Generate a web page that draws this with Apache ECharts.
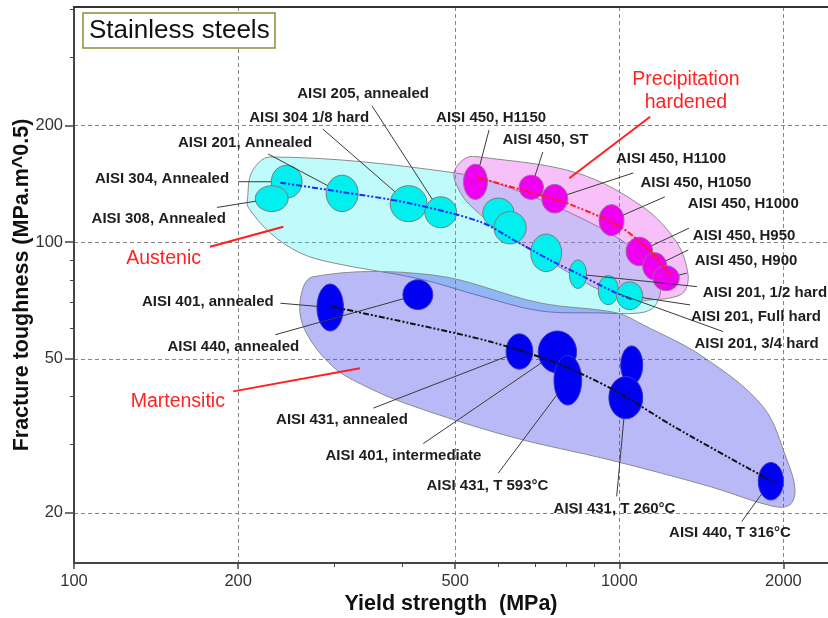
<!DOCTYPE html>
<html>
<head>
<meta charset="utf-8">
<script src="https://cdn.jsdelivr.net/npm/echarts@6/dist/echarts.min.js"></script>
<style>
  html, body { margin: 0; padding: 0; background: #fff; }
  #chart { width: 828px; height: 618px; }
</style>
</head>
<body>
<div id="chart"></div>
<script>
const FONT = "'Liberation Sans', Arial, sans-serif";
const lg = Math.log10;

// ---- Axes (yield strength in MPa, fracture toughness in MPa.m^0.5), log scales ----
const yieldExtent = [100, 2414];
const toughExtent = [14.85, 405];
const yieldMajorTicks = [100, 200, 500, 1000, 2000];
const yieldMinorTicks = [300, 400, 600, 700, 800, 900];
const toughMajorTicks = [20, 50, 100, 200];
const toughMinorTicks = [30, 40, 60, 70, 80, 90, 300, 400];

// ---- Austenitic grades: yield range [min, max], toughness range [min, max] ----
const austeniticNames = [
  'AISI 304, Annealed', 'AISI 308, Annealed', 'AISI 201, Annealed', 'AISI 304 1/8 hard',
  'AISI 205, annealed', '', '', '', 'AISI 201, 1/2 hard', 'AISI 201, 3/4 hard', 'AISI 201, Full hard'
];
const austeniticYield = [
  [230, 262], [215, 247], [290, 332], [380, 444], [440, 503], [562, 641],
  [589, 675], [688, 784], [810, 871], [915, 996], [989, 1104]
];
const austeniticTough = [
  [130, 158], [120, 140], [120, 149], [113, 140], [109, 131], [109, 130],
  [99, 120], [84, 105], [76, 90], [69, 82], [67, 79]
];

// ---- Precipitation hardened grades ----
const phNames = [
  'AISI 450, H1150', 'AISI 450, ST', 'AISI 450, H1100', 'AISI 450, H1050',
  'AISI 450, H1000', 'AISI 450, H950', 'AISI 450, H900'
];
const phYield = [[518, 573], [655, 726], [721, 804], [918, 1020], [1029, 1151], [1104, 1222], [1153, 1288]];
const phTough = [[129, 159], [129, 149], [119, 141], [104, 125], [87, 103], [80, 94], [75, 87]];

// ---- Martensitic grades ----
const martNames = [
  'AISI 401, annealed', 'AISI 440, annealed', 'AISI 431, annealed', 'AISI 401, intermediate',
  'AISI 431, T 593°C', '', 'AISI 431, T 260°C', 'AISI 440, T 316°C'
];
const martYield = [[279, 312], [401, 455], [620, 694], [710, 835], [759, 853], [1006, 1104], [957, 1104], [1798, 2000]];
const martTough = [[59, 78], [67, 80], [47, 58], [46, 59], [38, 51], [43, 54], [35, 45], [21.6, 27]];

// ---- Trend lines through each family ----
const austeniticTrend = [[239, 142.5], [310, 134.8], [410, 126.3], [555, 113], [648, 100.4], [746, 90], [835, 83.2], [974, 74.6], [1060, 71]];
const phTrend = [[551, 146.8], [715, 132.4], [812, 125.3], [1003, 109.7], [1107, 98.4], [1188, 89.1], [1248, 80.8]];
const martTrend = [[297, 68.2], [413, 61.8], [579, 55.4], [768, 48.7], [975, 41.6], [1274, 33.1], [1930, 23.9]];

// ---- Family envelopes (outline vertices, MPa / MPa.m^0.5) ----
const austeniticEnvelope = [
  [208, 128.6], [212, 152], [229, 166], [500, 151], [658, 135], [922, 109], [1091, 92.7],
  [1187, 77.6], [1163, 68.5], [1091, 65.7], [922, 65.7], [716, 66.5], [555, 72.7],
  [431, 80.4], [299, 88.4], [260, 93.8], [229, 105.7], [208.5, 123.3]
];
const phEnvelope = [
  [498, 152], [523, 165], [555, 166], [836, 151], [1105, 123.3], [1276, 99.6], [1337, 82.3],
  [1314, 74.4], [1239, 71.8], [1138, 71], [1091, 70.6], [922, 75.3], [822, 82.3],
  [622, 104.4], [532, 124.8], [506, 138.1]
];
const martEnvelope = [
  [260, 71], [274, 81.4], [455, 82.3], [716, 69.7], [990, 65.7], [1105, 61.2], [1424, 50.6],
  [1835, 37.6], [2030, 27.4], [2100, 23], [2056, 21], [1914, 20.8], [1466, 23.4],
  [962, 27.4], [630, 31.5], [413, 38], [344.5, 42.3], [298.5, 47.7], [265, 59.4]
];

// ---- Callout layout: [text x, text y, leader start x, leader start y] in axis units ----
const austeniticCallouts = [
  [145, 146, 200, 143.3], [143, 115, 183, 123], [206, 181, 227, 169], [270, 210, 286, 196],
  [339, 242, 352, 225], null, null, null,
  [1850, 74.1, 1388, 76.8], [1786, 54.6, 1550, 58.8], [1781, 64.3, 1348, 68.9]
];
const phCallouts = [
  [582, 210, 577, 195], [732, 184, 724, 171], [1244, 164, 1061, 151], [1382, 142, 1212, 131],
  [1688, 125.5, 1342, 108.7], [1694, 103.8, 1338, 95.5], [1708, 89.5, 1329, 83.2]
];
const martCallouts = [
  [176, 70.3, 239, 69.6], [196, 53.8, 234, 57.7], [310, 34.8, 354, 37.3], [402, 28.1, 437, 30.2],
  [573, 23.55, 600, 25.35], null, [980, 20.5, 989, 22.07], [1596, 17.75, 1677, 19.0]
];
// Family names with their pointer lines: [text x, text y, from x, from y, to x, to y]
const familyNames = ['Austenic', 'Martensitic', 'Precipitation\nhardened'];
const familyCallouts = [
  [146, 90.9, 177.6, 97.4, 242, 109.7],
  [155, 38.8, 195.9, 41.2, 334.6, 47.3],
  [1325, 246, 1139, 210.9, 809.6, 146.3]
];

// ---------- series builders ----------
function envelopeSeries(outline, fill) {
  return {
    type: 'custom', z: 1, silent: true,
    data: outline.map(p => [lg(p[0]), lg(p[1])]),
    renderItem: (params, api) => {
      if (params.dataIndex !== 0) return null;
      const pts = outline.map(p => api.coord([lg(p[0]), lg(p[1])]));
      return {
        type: 'polygon',
        shape: { points: pts, smooth: 0.35 },
        style: { fill: fill, stroke: '#8c8c8c', lineWidth: 1 }
      };
    }
  };
}

function ellipseOf(api, xr, yr) {
  const a = api.coord([lg(xr[0]), lg(yr[0])]);
  const b = api.coord([lg(xr[1]), lg(yr[1])]);
  return {
    cx: (a[0] + b[0]) / 2, cy: (a[1] + b[1]) / 2,
    rx: Math.abs(b[0] - a[0]) / 2, ry: Math.abs(b[1] - a[1]) / 2
  };
}

function bubbleSeries(yields, toughs, fill, stroke) {
  return {
    type: 'custom', z: 2, silent: true,
    encode: { x: [0, 1], y: [2, 3] },
    data: yields.map((xr, i) => [lg(xr[0]), lg(xr[1]), lg(toughs[i][0]), lg(toughs[i][1])]),
    renderItem: (params, api) => {
      const i = params.dataIndex;
      const e = ellipseOf(api, yields[i], toughs[i]);
      return {
        type: 'ellipse',
        shape: e,
        style: { fill: fill, stroke: stroke, lineWidth: 1 }
      };
    }
  };
}

function trendSeries(points, color) {
  return {
    type: 'line', z: 3, silent: true, symbol: 'none', smooth: 0.3,
    data: points.map(p => [lg(p[0]), lg(p[1])]),
    lineStyle: { color: color, width: 2, type: [6, 2, 2, 2, 2, 2] }
  };
}

function calloutSeries(names, yields, toughs, layout) {
  const idx = [];
  layout.forEach((l, i) => { if (l) idx.push(i); });
  return {
    type: 'custom', z: 4, silent: true,
    data: idx.map(i => [lg(layout[i][2]), lg(layout[i][3])]),
    renderItem: (params, api) => {
      const i = idx[params.dataIndex];
      const l = layout[i];
      const e = ellipseOf(api, yields[i], toughs[i]);
      const s = api.coord([lg(l[2]), lg(l[3])]);
      const dx = s[0] - e.cx, dy = s[1] - e.cy;
      const t = 1 / Math.sqrt((dx / e.rx) * (dx / e.rx) + (dy / e.ry) * (dy / e.ry));
      const tp = api.coord([lg(l[0]), lg(l[1])]);
      return {
        type: 'group',
        children: [
          { type: 'line', shape: { x1: s[0], y1: s[1], x2: e.cx + dx * t, y2: e.cy + dy * t },
            style: { stroke: '#3a3a3a', lineWidth: 1 } },
          { type: 'text', x: tp[0], y: tp[1],
            style: { text: names[i], font: 'bold 15px ' + FONT, fill: '#1e1e1e', align: 'center', verticalAlign: 'middle' } }
        ]
      };
    }
  };
}

function familySeries() {
  return {
    type: 'custom', z: 4, silent: true,
    data: familyCallouts.map(c => [lg(c[0]), lg(c[1])]),
    renderItem: (params, api) => {
      const c = familyCallouts[params.dataIndex];
      const tp = api.coord([lg(c[0]), lg(c[1])]);
      const a = api.coord([lg(c[2]), lg(c[3])]);
      const b = api.coord([lg(c[4]), lg(c[5])]);
      return {
        type: 'group',
        children: [
          { type: 'line', shape: { x1: a[0], y1: a[1], x2: b[0], y2: b[1] },
            style: { stroke: '#ff1f1f', lineWidth: 2 } },
          { type: 'text', x: tp[0], y: tp[1],
            style: { text: familyNames[params.dataIndex], font: '19.5px ' + FONT, fill: '#ff2222',
                     align: 'center', verticalAlign: 'middle', lineHeight: 23 } }
        ]
      };
    }
  };
}

const fmt = v => String(Math.round(Math.pow(10, v)));
const axisColor = '#444';

const option = {
  animation: false,
  backgroundColor: '#fff',
  title: {
    text: 'Stainless steels',
    left: 83, top: 13,
    padding: [5, 6, 4, 6],
    borderColor: '#8d8a3a', borderWidth: 1.5, backgroundColor: '#fff',
    textStyle: { fontFamily: FONT, fontSize: 26, fontWeight: 'normal', color: '#111' }
  },
  grid: { left: 74, right: 0, top: 7, bottom: 55, containLabel: false, outerBoundsMode: 'none' },
  xAxis: [
    {
      type: 'value', position: 'bottom', min: lg(yieldExtent[0]), max: lg(yieldExtent[1]),
      name: 'Yield strength  (MPa)', nameLocation: 'middle', nameGap: 30, nameMoveOverlap: false,
      nameTextStyle: { fontFamily: FONT, fontSize: 21.5, fontWeight: 'bold', color: '#111' },
      axisLine: { show: true, onZero: false, lineStyle: { color: axisColor, width: 2 } },
      axisTick: { show: true, inside: false, length: 6, customValues: yieldMajorTicks.map(lg), lineStyle: { color: axisColor, width: 1.5 } },
      axisLabel: { show: true, customValues: yieldMajorTicks.map(lg), formatter: fmt, margin: 10, fontFamily: FONT, fontSize: 16.5, color: '#333' },
      splitLine: { show: true, lineStyle: { color: '#858585', width: 1, type: [4, 3] } }
    },
    {
      type: 'value', position: 'bottom', min: lg(yieldExtent[0]), max: lg(yieldExtent[1]),
      axisLine: { show: false, onZero: false },
      axisTick: { show: true, inside: false, length: 4, customValues: yieldMinorTicks.map(lg), lineStyle: { color: axisColor, width: 1 } },
      axisLabel: { show: false }, splitLine: { show: false }
    },
    {
      type: 'value', position: 'top', min: lg(yieldExtent[0]), max: lg(yieldExtent[1]),
      axisLine: { show: true, onZero: false, lineStyle: { color: '#333', width: 2 } },
      axisTick: { show: false }, axisLabel: { show: false }, splitLine: { show: false }
    }
  ],
  yAxis: [
    {
      type: 'value', position: 'left', min: lg(toughExtent[0]), max: lg(toughExtent[1]),
      name: 'Fracture toughness (MPa.m^0.5)', nameLocation: 'middle', nameGap: 41, nameMoveOverlap: false,
      nameTextStyle: { fontFamily: FONT, fontSize: 21.5, fontWeight: 'bold', color: '#111' },
      axisLine: { show: true, onZero: false, lineStyle: { color: axisColor, width: 2 } },
      axisTick: { show: true, inside: false, length: 9, customValues: toughMajorTicks.map(lg), lineStyle: { color: axisColor, width: 1.5 } },
      axisLabel: { show: true, customValues: toughMajorTicks.map(lg), formatter: fmt, margin: 11, fontFamily: FONT, fontSize: 16.5, color: '#333' },
      splitLine: { show: true, lineStyle: { color: '#858585', width: 1, type: [4, 3] } }
    },
    {
      type: 'value', position: 'left', min: lg(toughExtent[0]), max: lg(toughExtent[1]),
      axisLine: { show: false, onZero: false },
      axisTick: { show: true, inside: false, length: 4, customValues: toughMinorTicks.map(lg), lineStyle: { color: axisColor, width: 1 } },
      axisLabel: { show: false }, splitLine: { show: false }
    }
  ],
  series: [
    envelopeSeries(austeniticEnvelope, 'rgba(0,240,240,0.25)'),
    envelopeSeries(phEnvelope, 'rgba(232,45,232,0.3)'),
    envelopeSeries(martEnvelope, 'rgba(60,60,236,0.36)'),
    bubbleSeries(austeniticYield, austeniticTough, '#00f0f0', '#7a7a7a'),
    bubbleSeries(phYield, phTough, '#f000f0', '#9a6a9a'),
    bubbleSeries(martYield, martTough, '#0000f2', '#3434c8'),
    trendSeries(austeniticTrend, '#1a2cff'),
    trendSeries(phTrend, '#ff1a1a'),
    trendSeries(martTrend, '#111111'),
    calloutSeries(austeniticNames, austeniticYield, austeniticTough, austeniticCallouts),
    calloutSeries(phNames, phYield, phTough, phCallouts),
    calloutSeries(martNames, martYield, martTough, martCallouts),
    familySeries()
  ]
};

const chart = echarts.init(document.getElementById('chart'), null, { renderer: 'canvas' });
chart.setOption(option);
</script>
</body>
</html>
